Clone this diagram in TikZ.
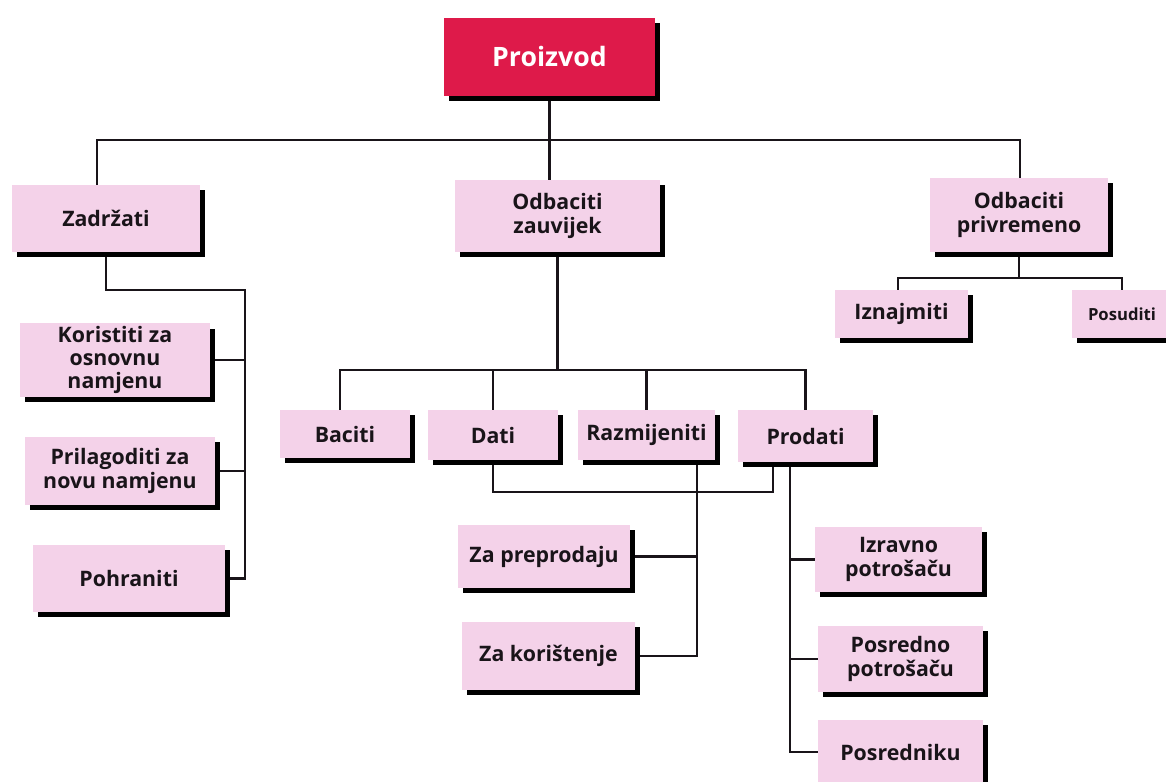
\documentclass[tikz,border=0pt]{standalone}
\usepackage{fontspec}
\setmainfont{Open Sans}
\usetikzlibrary{shadows,backgrounds}
\definecolor{boxpink}{RGB}{244,210,233}
\definecolor{titlered}{RGB}{222,26,74}
\definecolor{inkc}{RGB}{25,20,25}
\tikzset{
  pbox/.style={rectangle, fill=boxpink, inner sep=2pt, align=center,
    font=\bfseries\fontsize{16pt}{17.5pt}\selectfont, text=inkc,
    drop shadow={shadow xshift=4pt, shadow yshift=-4pt, fill=black, opacity=1}},
  tbox/.style={pbox, fill=titlered, text=white, font=\bfseries\fontsize{20pt}{22pt}\selectfont},
  conn/.style={draw=inkc, line width=2pt},
  bx/.style 2 args={minimum width=#1*0.75pt, minimum height=#2*0.75pt}
}
\begin{document}
\begin{tikzpicture}[x=0.75pt,y=-0.75pt]
\useasboundingbox (0,0) rectangle (1166,781);
% level 0
\node[tbox, bx={211}{78}] (proizvod) at (549.5,57) {Proizvod};
% level 1
\node[pbox, bx={188}{67}] (zad) at (106,218.5) {Zadržati};
\node[pbox, bx={205}{72}] (ozauv) at (557.5,216) {Odbaciti\\zauvijek};
\node[pbox, bx={178}{74}] (opriv) at (1019,215) {Odbaciti\\privremeno};
% Zadrzati children
\node[pbox, bx={190}{72}] (kor) at (115,360) {Koristiti za\\osnovnu\\namjenu};
\node[pbox, bx={190}{68}] (pril) at (120,471) {Prilagoditi za\\novu namjenu};
\node[pbox, bx={192}{67}] (pohr) at (129,578.5) {Pohraniti};
% Odbaciti zauvijek children
\node[pbox, bx={130}{48}] (baciti) at (345,434) {Baciti};
\node[pbox, bx={130}{50}] (dati) at (493,435) {Dati};
\node[pbox, bx={137}{50}] (razm) at (646.5,435) {Razmijeniti};
\node[pbox, bx={135}{52}] (prodati) at (805.5,436) {Prodati};
% Razmijeniti children
\node[pbox, bx={172}{63}] (zaprep) at (544,556.5) {Za preprodaju};
\node[pbox, bx={173}{68}] (zakor) at (548.5,656) {Za korištenje};
% Prodati children
\node[pbox, bx={167}{65}] (izravno) at (898.5,559.5) {Izravno\\potrošaču};
\node[pbox, bx={165}{66}] (posredno) at (900.5,659) {Posredno\\potrošaču};
\node[pbox, bx={165}{64}] (posrednik) at (900.5,752) {Posredniku};
% Odbaciti privremeno children
\node[pbox, bx={133}{48}] (iznaj) at (901.5,314) {Iznajmiti};
\node[pbox, bx={100}{48}, font=\bfseries\fontsize{12.5pt}{14pt}\selectfont] (posud) at (1122,314) {Posuditi};
% helper coordinates
\coordinate (barL) at (97,140);
\coordinate (barR) at (1020,140);
\coordinate (zspine) at (245,290);
\coordinate (zbar) at (340,370);
\coordinate (dp) at (773,492);
\coordinate (rz) at (697,480);
\coordinate (pz) at (790,480);
\coordinate (pbar) at (898,278);
\begin{pgfonlayer}{background}
% top level
\draw[conn] (proizvod.south) -- (ozauv.north -| proizvod.south);
\draw[conn] (barL |- zad.north) -- (barL) -- (barR) -- (barR |- opriv.north);
% Zadrzati
\draw[conn] (zad.south) -- (zad.south |- zspine) -- (zspine) -- (zspine |- pohr.east) -- (pohr.east);
\draw[conn] (kor.east) -- (kor.east -| zspine);
\draw[conn] (pril.east) -- (pril.east -| zspine);
% Odbaciti zauvijek
\draw[conn] (ozauv.south) -- (ozauv.south |- zbar);
\draw[conn] (baciti.north -| zbar) -- (zbar) -- (zbar -| prodati.north) -- (prodati.north);
\draw[conn] (dati.north) -- (dati.north |- zbar);
\draw[conn] (razm.north) -- (razm.north |- zbar);
% Dati - Prodati
\draw[conn] (dati.south) -- (dati.south |- dp) -- (dp) -- (dp |- prodati.south);
% Razmijeniti
\draw[conn] (rz |- razm.south) -- (rz |- zakor.east) -- (zakor.east);
\draw[conn] (zaprep.east) -- (zaprep.east -| rz);
% Prodati
\draw[conn] (pz |- prodati.south) -- (pz |- posrednik.west) -- (posrednik.west);
\draw[conn] (izravno.west) -- (izravno.west -| pz);
\draw[conn] (posredno.west) -- (posredno.west -| pz);
% Odbaciti privremeno
\draw[conn] (opriv.south) -- (opriv.south |- pbar);
\draw[conn] (iznaj.north -| pbar) -- (pbar) -- (pbar -| posud.north) -- ++(0,12);
\end{pgfonlayer}
\end{tikzpicture}
\end{document}
